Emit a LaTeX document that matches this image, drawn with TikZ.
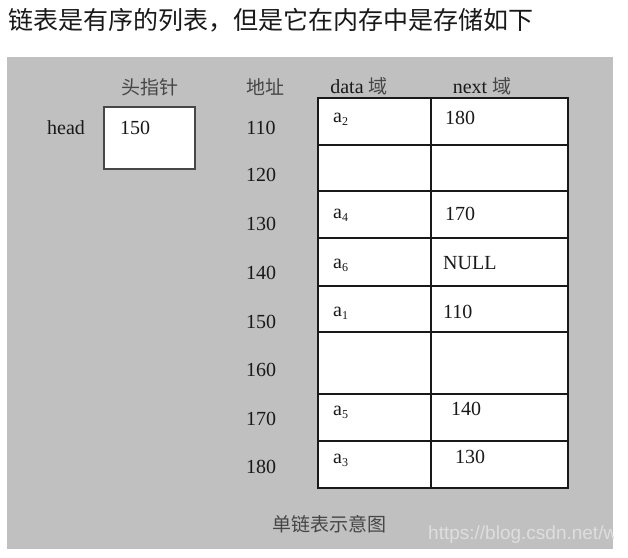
\documentclass[tikz,border=0pt]{standalone}
\usepackage{fontspec}
\setmainfont{Liberation Serif}
\newfontfamily\cjk{Noto Sans CJK SC}
\newfontfamily\wmfont{Liberation Sans}
\definecolor{panel}{RGB}{192,192,192}
\definecolor{ink}{RGB}{25,25,25}
\definecolor{cjkink}{RGB}{70,70,70}
\definecolor{wm}{RGB}{222,222,222}
\newcommand{\sub}[1]{\raisebox{-0.3ex}{\fontsize{12}{12}\selectfont #1}}
\tikzset{
  lbl/.style={inner sep=0pt, text=ink, font=\fontsize{20}{24}\selectfont},
  cjklbl/.style={inner sep=0pt, text=cjkink, font=\cjk\fontsize{19}{23}\selectfont},
  cell/.style={lbl, anchor=west},
  tbl/.style={draw=ink, line width=1.6pt, fill=white},
}
\begin{document}
\begin{tikzpicture}[x=1pt,y=-1pt]
\useasboundingbox (0,0) rectangle (628,557);
\fill[white] (0,0) rectangle (628,557);
% panel
\fill[panel] (7,57) rectangle (613,549);
% title
\node[anchor=west, inner sep=0pt, text=ink, font=\cjk\fontsize{25}{30}\selectfont] (title) at (8,20) {链表是有序的列表，但是它在内存中是存储如下};
% headers
\node[cjklbl] (hptr) at (150,87) {头指针};
\node[cjklbl] (addr) at (265,87) {地址};
\node[lbl] (datah) at (359,86) {data {\cjk\fontsize{19}{23}\selectfont\color{cjkink}域}};
\node[lbl] (nexth) at (482,86) {next {\cjk\fontsize{19}{23}\selectfont\color{cjkink}域}};
% head pointer
\node[lbl] (head) at (66,128) {head};
\node[draw=ink!80, line width=1.6pt, fill=white, minimum width=91pt, minimum height=62pt, inner sep=0pt] (headbox) at (149.5,138) {};
\node[lbl] (hval) at (135,128) {150};
% table
\foreach \ya/\yb [count=\i] in {98/145,145/191,191/238,238/286,286/332,332/394,394/441,441/488}{
  \draw[tbl] (318,\ya) rectangle (431,\yb);
  \draw[tbl] (431,\ya) rectangle (568,\yb);
}
% addresses
\node[lbl] (ad110) at (261,128) {110};
\node[lbl] (ad120) at (261,175) {120};
\node[lbl] (ad130) at (261,224) {130};
\node[lbl] (ad140) at (261,273) {140};
\node[lbl] (ad150) at (261,322) {150};
\node[lbl] (ad160) at (261,370) {160};
\node[lbl] (ad170) at (261,419) {170};
\node[lbl] (ad180) at (261,467) {180};
% cell contents
\node[cell] (d1) at (333,119) {a\sub{2}};
\node[cell] (n1) at (445,118) {180};
\node[cell] (d3) at (333,215) {a\sub{4}};
\node[cell] (n3) at (445,214) {170};
\node[cell] (d4) at (333,265) {a\sub{6}};
\node[cell] (n4) at (443,263) {NULL};
\node[cell] (d5) at (333,313) {a\sub{1}};
\node[cell] (n5) at (443,312) {110};
\node[cell] (d7) at (333,412) {a\sub{5}};
\node[cell] (n7) at (451,409) {140};
\node[cell] (d8) at (333,460) {a\sub{3}};
\node[cell] (n8) at (455,457) {130};
% caption
\node[cjklbl] (cap) at (329,524) {单链表示意图};
% watermark (only visible over the grey panel)
\begin{scope}
\clip (7,57) rectangle (613,549);
\node[anchor=west, inner sep=0pt, text=wm, font=\wmfont\fontsize{19}{22}\selectfont] (wmark) at (428,535) {https://blog.csdn.net/we};
\end{scope}
\end{tikzpicture}
\end{document}
